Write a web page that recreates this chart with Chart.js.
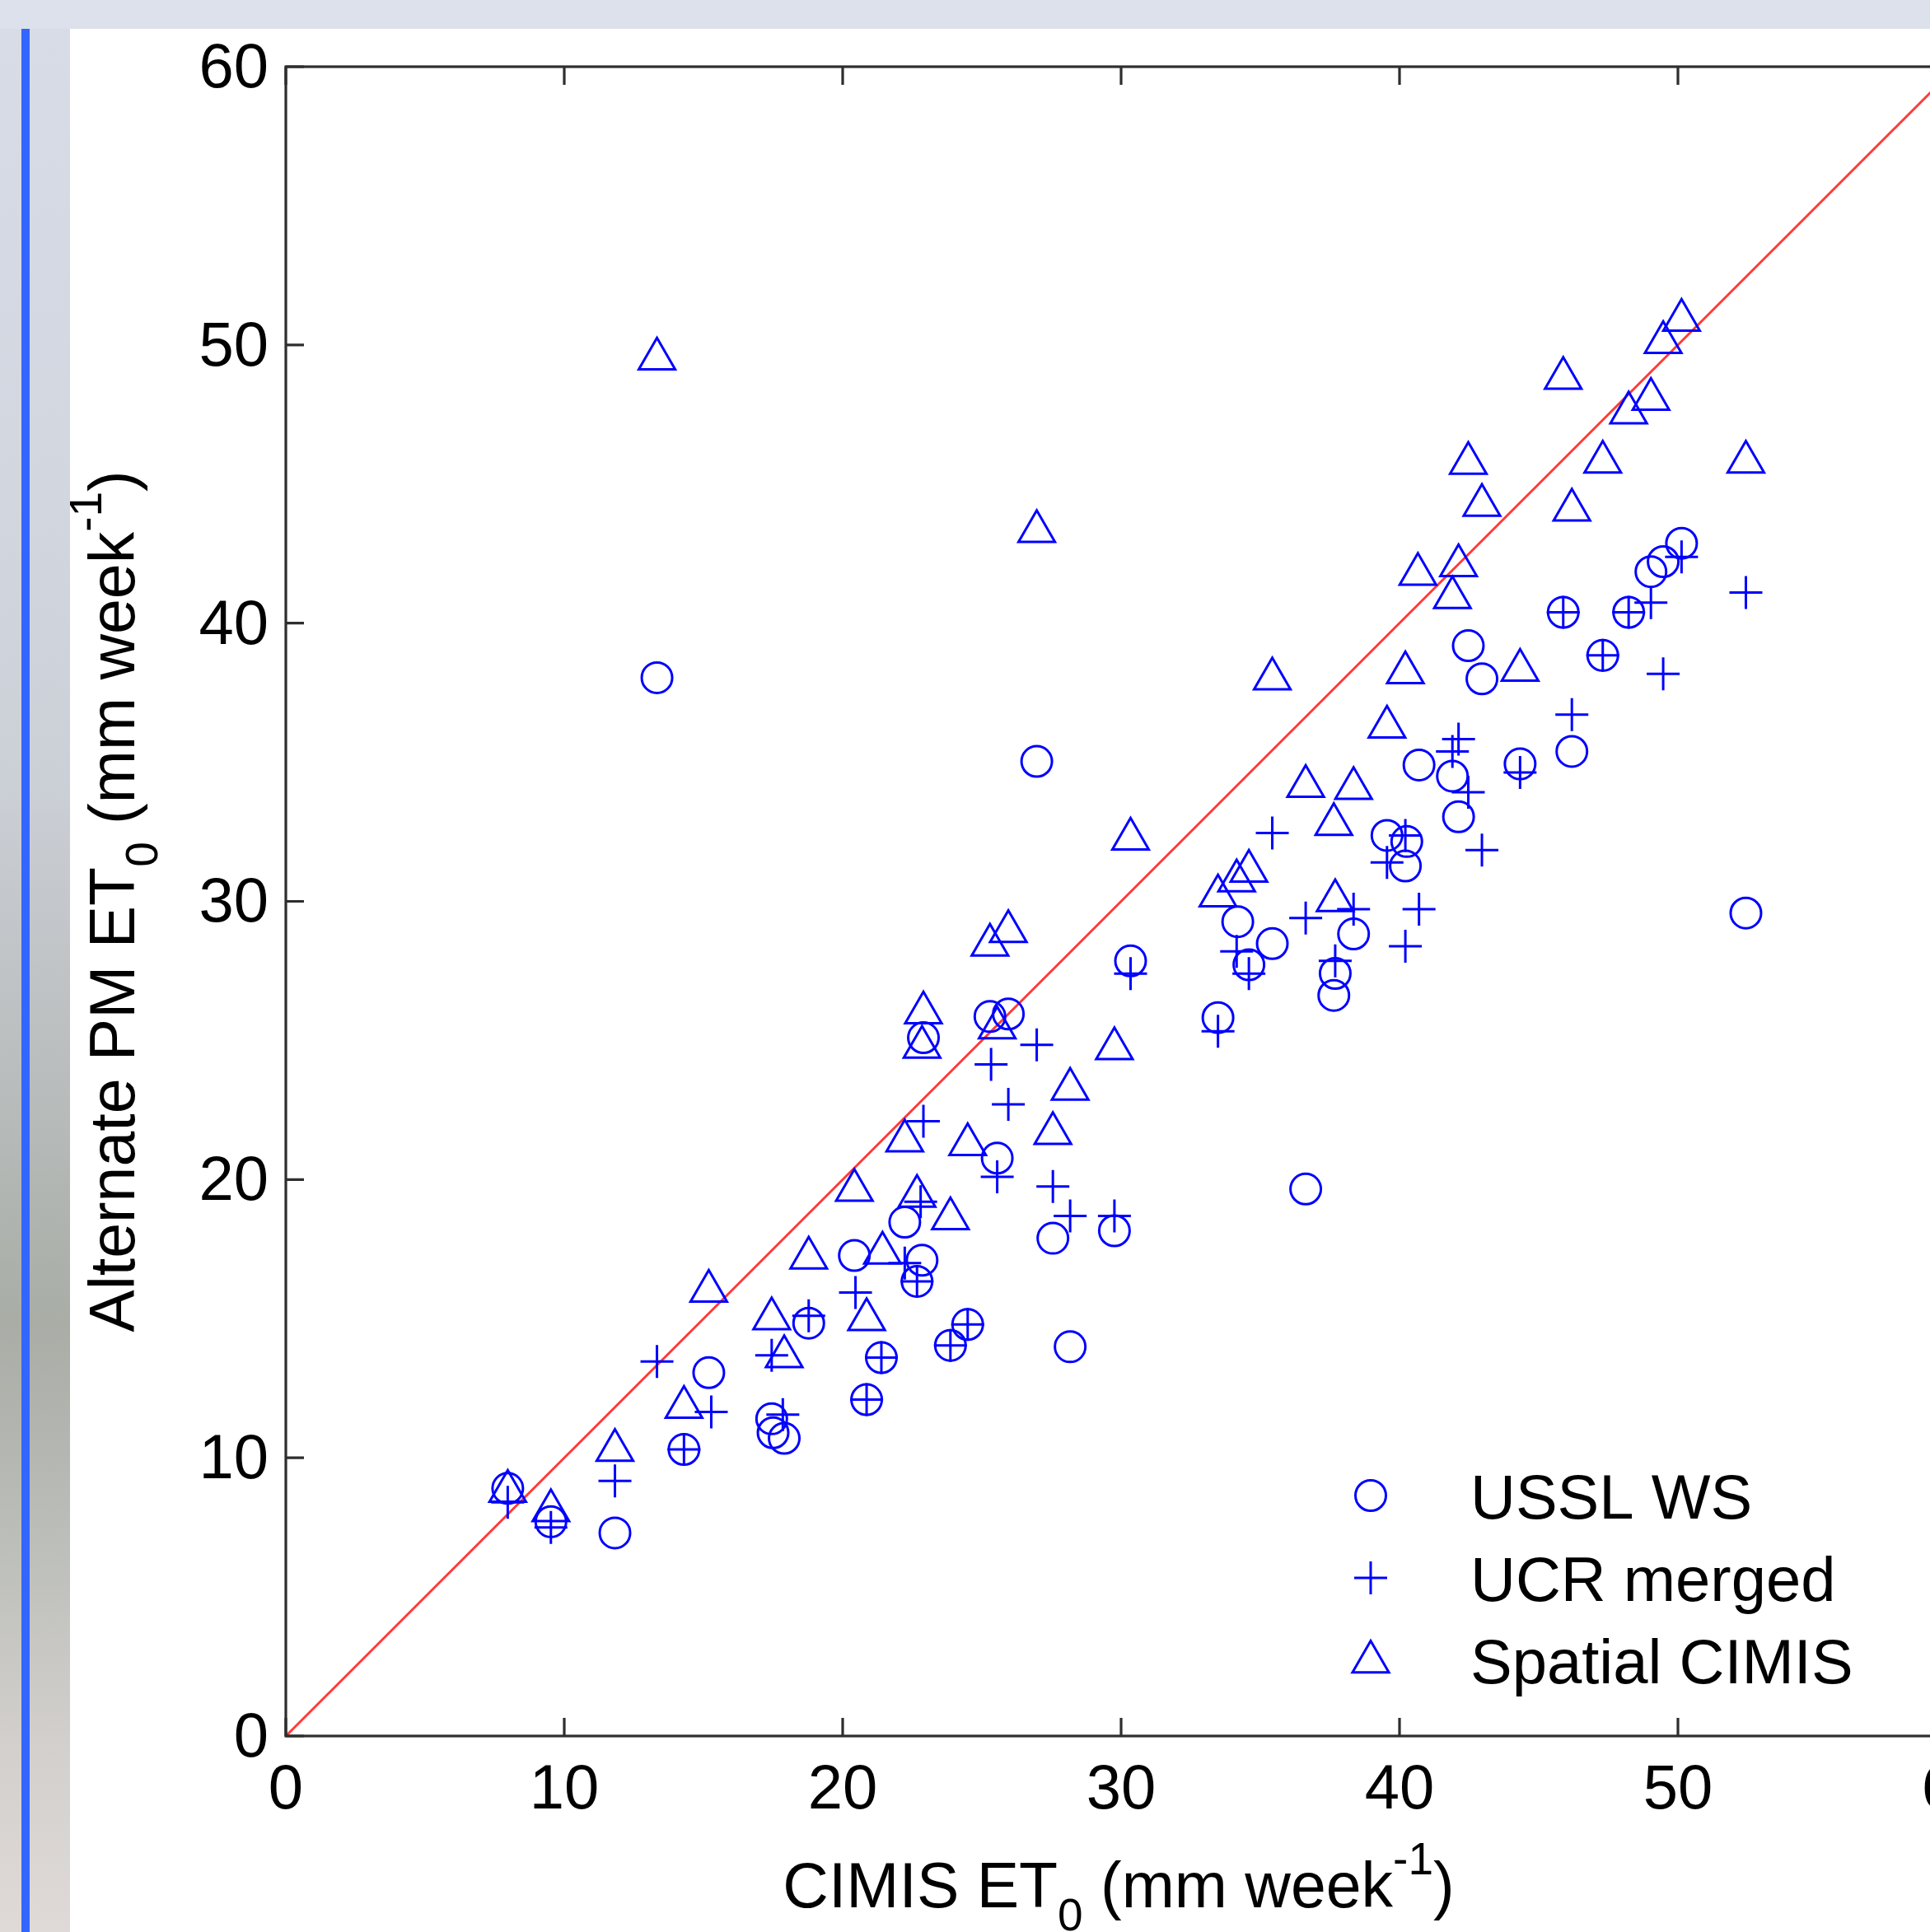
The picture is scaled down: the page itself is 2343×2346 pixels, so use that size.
<!DOCTYPE html>
<html>
<head>
<meta charset="utf-8">
<script src="https://cdn.jsdelivr.net/npm/chart.js@4.4.1/dist/chart.umd.min.js"></script>
<style>
html,body{margin:0;padding:0;width:2343px;height:2346px;overflow:hidden;}
body{position:relative;background:#dde1eb;}
#leftstrip{position:absolute;left:0;top:35px;width:85px;height:2311px;
 background:linear-gradient(to bottom,#d8dce6 0%,#d2d6df 25%,#cbcfd6 40%,#b9bdbd 55%,#a9ada6 68%,#bdbfba 80%,#d2cfcc 90%,#dfdad8 100%);}
#blue{position:absolute;left:26px;top:35px;width:10px;height:2311px;background:#3366ff;}
#panel{position:absolute;left:85px;top:35px;right:0;bottom:0;background:#ffffff;}
#wrap{position:absolute;left:0;top:0;width:2480px;height:2346px;}
</style>
</head>
<body>
<div id="leftstrip"></div>
<div id="blue"></div>
<div id="panel"></div>
<div id="wrap"><canvas id="c" width="2480" height="2346" style="width:2480px;height:2346px"></canvas></div>
<script>
// ---------- data ----------
const xTickValues = [0, 10, 20, 30, 40, 50, 60];
const yTickValues = [0, 10, 20, 30, 40, 50, 60];
const seriesLabels = ['USSL WS', 'UCR merged', 'Spatial CIMIS'];

const usslX = [7.97, 9.52, 11.82, 13.33, 14.3, 15.19, 17.45, 17.5, 17.9, 18.78, 20.42, 20.86, 21.39, 22.23, 22.67, 22.85, 22.9, 23.87, 24.49, 25.29, 25.55, 25.95, 26.97, 27.55, 28.17, 29.76, 30.34, 33.48, 34.19, 34.59, 35.43, 36.63, 37.64, 37.69, 38.35, 39.55, 40.21, 40.26, 40.7, 41.9, 42.12, 42.47, 42.96, 44.33, 45.88, 46.19, 47.3, 48.23, 49.03, 49.47, 50.13, 52.44];
const usslY = [8.9, 7.7, 7.3, 38.04, 10.3, 13.06, 11.4, 10.9, 10.7, 14.84, 17.27, 12.09, 13.6, 18.47, 16.34, 17.1, 25.1, 14.04, 14.79, 25.86, 20.77, 25.95, 35.03, 17.89, 13.99, 18.16, 27.86, 25.82, 29.27, 27.72, 28.48, 19.66, 26.62, 27.41, 28.83, 32.37, 31.27, 32.15, 34.9, 34.5, 33.04, 39.19, 38.0, 34.94, 40.39, 35.39, 38.84, 40.39, 41.85, 42.21, 42.87, 29.58];

const ucrX = [7.97, 9.52, 11.82, 13.33, 14.3, 15.28, 17.45, 17.85, 18.78, 20.46, 20.86, 21.39, 22.23, 22.67, 22.8, 22.9, 23.87, 24.49, 25.33, 25.55, 25.95, 26.97, 27.55, 28.17, 29.76, 30.34, 33.48, 34.15, 34.59, 35.43, 36.63, 37.69, 38.35, 39.55, 40.21, 40.21, 40.7, 41.9, 42.12, 42.47, 42.96, 44.33, 45.88, 46.19, 47.3, 48.23, 49.03, 49.47, 50.13, 52.44];
const ucrY = [8.4, 7.5, 9.17, 13.46, 10.3, 11.65, 13.68, 11.55, 15.1, 15.94, 12.09, 13.6, 17.0, 16.34, 19.2, 22.1, 14.04, 14.79, 24.14, 20.1, 22.7, 24.84, 19.75, 18.69, 18.69, 27.4, 25.33, 28.2, 27.4, 32.46, 29.4, 27.86, 29.72, 31.4, 32.37, 28.39, 29.72, 35.39, 35.83, 33.92, 31.84, 34.63, 40.39, 36.71, 38.84, 40.39, 40.74, 38.18, 42.38, 41.1];

const spatialX = [7.97, 9.52, 11.82, 13.33, 14.3, 15.19, 17.45, 17.9, 18.78, 20.42, 20.86, 21.43, 22.23, 22.67, 22.9, 22.85, 23.87, 24.49, 25.29, 25.55, 25.95, 26.97, 27.55, 28.17, 29.76, 30.34, 33.48, 34.15, 34.59, 35.43, 36.63, 37.64, 37.69, 38.35, 39.55, 40.21, 40.66, 41.9, 42.12, 42.47, 42.96, 44.33, 45.88, 46.19, 47.3, 48.23, 49.03, 49.47, 50.13, 52.44];
const spatialY = [8.8, 8.1, 10.27, 49.5, 11.82, 15.99, 15.0, 13.64, 17.18, 19.62, 14.97, 17.36, 21.39, 19.4, 26.0, 24.76, 18.6, 21.26, 28.43, 25.46, 28.92, 43.3, 21.66, 23.25, 24.71, 32.24, 30.2, 30.74, 31.09, 38.0, 34.14, 32.77, 30.03, 34.06, 36.27, 38.22, 41.76, 40.92, 42.07, 45.75, 44.24, 38.31, 48.8, 44.07, 45.79, 47.56, 48.05, 50.09, 50.89, 45.79];

const oneToOneX = [0, 60];
const oneToOneY = [0, 60];

const xTitleParts = ['CIMIS ET', '0', ' (mm week', '-1', ')'];
const yTitleParts = ['Alternate PM ET', '0', ' (mm week', '-1', ')'];

// ---------- styling / layout ----------
const FONT = "'Liberation Sans', Arial, Helvetica, sans-serif";
const FS = 76;
const BLUE = '#0000ff';
const MW = 3;
const markerDefs = [
  {pointStyle: 'circle', radius: 18.5},
  {pointStyle: 'cross', radius: 20},
  {pointStyle: 'triangle', radius: 25.5}
];
const seriesX = [usslX, ucrX, spatialX];
const seriesY = [usslY, ucrY, spatialY];

function toPoints(xs, ys) { return xs.map((x, i) => ({x: x, y: ys[i]})); }

const scatterSets = seriesLabels.map((lab, i) => ({
  type: 'scatter',
  label: lab,
  data: toPoints(seriesX[i], seriesY[i]),
  pointStyle: markerDefs[i].pointStyle,
  pointRadius: markerDefs[i].radius,
  pointHoverRadius: markerDefs[i].radius,
  pointBorderWidth: MW,
  pointHoverBorderWidth: MW,
  borderColor: BLUE,
  backgroundColor: 'rgba(0,0,0,0)',
  pointBackgroundColor: 'rgba(0,0,0,0)',
  clip: false
}));

const lineSet = {
  type: 'line',
  label: '1:1',
  data: toPoints(oneToOneX, oneToOneY),
  borderColor: '#ff3a3a',
  borderWidth: 3,
  pointRadius: 0,
  fill: false,
  tension: 0
};

const framePlugin = {
  id: 'frame',
  afterDatasetsDraw(chart) {
    const ctx = chart.ctx, a = chart.chartArea, xs = chart.scales.x, ys = chart.scales.y;
    ctx.save();
    ctx.strokeStyle = '#2e2e2e';
    ctx.lineWidth = 3.2;
    ctx.strokeRect(a.left, a.top, a.right - a.left, a.bottom - a.top);
    const L = 22;
    ctx.beginPath();
    xs.ticks.forEach(t => {
      const px = xs.getPixelForValue(t.value);
      ctx.moveTo(px, a.bottom); ctx.lineTo(px, a.bottom - L);
      ctx.moveTo(px, a.top); ctx.lineTo(px, a.top + L);
    });
    ys.ticks.forEach(t => {
      const py = ys.getPixelForValue(t.value);
      ctx.moveTo(a.left, py); ctx.lineTo(a.left + L, py);
      ctx.moveTo(a.right, py); ctx.lineTo(a.right - L, py);
    });
    ctx.stroke();
    ctx.restore();
  }
};

function drawRich(ctx, parts, F) {
  // parts: main, sub, main, sup, main
  const spec = [[1, 0], [0.72, 0.36], [1, 0], [0.72, -0.52], [1, 0]];
  const items = parts.map((t, i) => ({t: t, size: Math.round(F * spec[i][0]), dy: F * spec[i][1]}));
  let total = 0;
  items.forEach(it => { ctx.font = it.size + 'px ' + FONT; it.w = ctx.measureText(it.t).width; total += it.w; });
  let xx = -total / 2;
  ctx.textAlign = 'left';
  ctx.textBaseline = 'alphabetic';
  items.forEach(it => { ctx.font = it.size + 'px ' + FONT; ctx.fillText(it.t, xx, it.dy); xx += it.w; });
}

const titlePlugin = {
  id: 'titles',
  afterDraw(chart) {
    const ctx = chart.ctx, a = chart.chartArea;
    ctx.save();
    ctx.fillStyle = '#000';
    ctx.translate((a.left + a.right) / 2 - 3, 2316);
    drawRich(ctx, xTitleParts, 77);
    ctx.restore();
    ctx.save();
    ctx.fillStyle = '#000';
    ctx.translate(163, (a.top + a.bottom) / 2);
    ctx.rotate(-Math.PI / 2);
    drawRich(ctx, yTitleParts, 77);
    ctx.restore();
  }
};

function drawMarker(ctx, def, x, y) {
  ctx.save();
  ctx.strokeStyle = BLUE;
  ctx.fillStyle = 'rgba(0,0,0,0)';
  ctx.lineWidth = MW;
  if (window.Chart && Chart.helpers && Chart.helpers.drawPoint) {
    Chart.helpers.drawPoint(ctx, {pointStyle: def.pointStyle, radius: def.radius, borderWidth: MW, rotation: 0}, x, y);
  } else {
    ctx.beginPath();
    ctx.arc(x, y, def.radius, 0, Math.PI * 2);
    ctx.stroke();
  }
  ctx.restore();
}

const legendPlugin = {
  id: 'customLegend',
  afterDraw(chart) {
    const ctx = chart.ctx;
    const rowsY = [1817, 1917, 2017];
    const markX = 1664, textX = 1785;
    const markDy = [-1, -1, 1];
    ctx.save();
    seriesLabels.forEach((lab, i) => {
      drawMarker(ctx, markerDefs[i], markX, rowsY[i] + markDy[i]);
      ctx.fillStyle = '#000';
      ctx.font = FS + 'px ' + FONT;
      ctx.textAlign = 'left';
      ctx.textBaseline = 'alphabetic';
      ctx.fillText(lab, textX, rowsY[i] + 27);
    });
    ctx.restore();
  }
};

function fixedTicks(values) {
  return function (scale) { scale.ticks = values.map(v => ({value: v})); };
}

const chart = new Chart(document.getElementById('c'), {
  data: {datasets: [...scatterSets, lineSet]},
  options: {
    responsive: false,
    devicePixelRatio: 1,
    animation: false,
    events: [],
    layout: {padding: {left: 0, top: 81, right: 105, bottom: 0}},
    plugins: {legend: {display: false}, tooltip: {enabled: false}, title: {display: false}},
    scales: {
      x: {
        type: 'linear', position: 'bottom', min: 0, max: 60,
        afterBuildTicks: fixedTicks(xTickValues),
        afterFit: s => { s.height = 238; },
        grid: {display: false, drawTicks: false},
        border: {display: false},
        ticks: {color: '#000', padding: 21, maxRotation: 0, autoSkip: false, font: {family: FONT, size: FS}}
      },
      y: {
        type: 'linear', position: 'left', min: 0, max: 60,
        afterBuildTicks: fixedTicks(yTickValues),
        afterFit: s => { s.width = 347; },
        grid: {display: false, drawTicks: false},
        border: {display: false},
        ticks: {color: '#000', padding: 21, labelOffset: 4, autoSkip: false, font: {family: FONT, size: FS}}
      }
    }
  },
  plugins: [framePlugin, titlePlugin, legendPlugin]
});
</script>
</body>
</html>
